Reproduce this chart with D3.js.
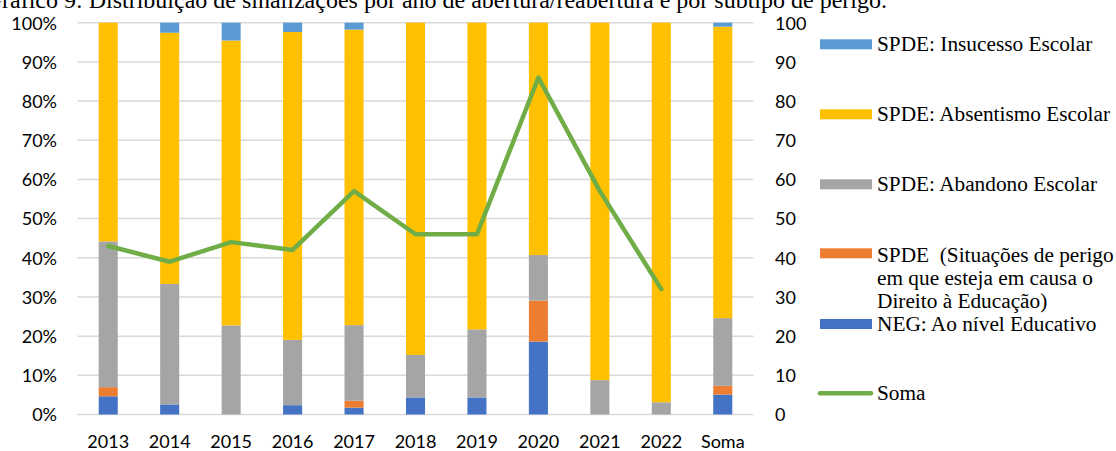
<!DOCTYPE html>
<html><head><meta charset="utf-8">
<script src="https://cdn.jsdelivr.net/npm/d3@7"></script>
<style>
html,body{margin:0;padding:0;background:#fff;}
svg{display:block;}
</style></head>
<body>
<svg id="chart" width="1116" height="451"></svg>
<script>
const categories = ["2013","2014","2015","2016","2017","2018","2019","2020","2021","2022","Soma"];
const negEducativo   = [2, 1, 0, 1, 1, 2, 2, 16, 0, 0, 25];
const spdeDireito    = [1, 0, 0, 0, 1, 0, 0, 9, 0, 0, 11];
const spdeAbandono   = [16, 12, 10, 7, 11, 5, 8, 10, 5, 1, 85];
const spdeAbsentismo = [24, 25, 32, 33, 43, 39, 36, 51, 52, 31, 366];
const spdeInsucesso  = [0, 1, 2, 1, 1, 0, 0, 0, 0, 0, 5];
const somaCategories = ["2013","2014","2015","2016","2017","2018","2019","2020","2021","2022"];
const somaValues     = [43, 39, 44, 42, 57, 46, 46, 86, 57, 32];
const leftTicks  = [0,0.1,0.2,0.3,0.4,0.5,0.6,0.7,0.8,0.9,1];
const rightTicks = [0,10,20,30,40,50,60,70,80,90,100];
const titleText = "Gráfico 9: Distribuição de sinalizações por ano de abertura/reabertura e por subtipo de perigo.";

const seriesDefs = [
  {key:"neg",  name:"NEG: Ao nível Educativo", values:negEducativo, color:"#4472C4"},
  {key:"dir",  name:"SPDE  (Situações de perigo|em que esteja em causa o|Direito à Educação)", values:spdeDireito, color:"#ED7D31"},
  {key:"aba",  name:"SPDE: Abandono Escolar", values:spdeAbandono, color:"#A5A5A5"},
  {key:"abs",  name:"SPDE: Absentismo Escolar", values:spdeAbsentismo, color:"#FFC000"},
  {key:"ins",  name:"SPDE: Insucesso Escolar", values:spdeInsucesso, color:"#5B9BD5"}
];

const rows = categories.map((c,i)=>{
  const r = {cat:c};
  seriesDefs.forEach(s=>{ r[s.key]=s.values[i]; });
  return r;
});

const svg = d3.select("#chart");
const plot = {left:77.5, right:753.5, top:22.7, bottom:414.5};

const x = d3.scaleBand().domain(categories).range([plot.left, plot.right])
  .paddingInner(0.69).paddingOuter(0.345);
const y = d3.scaleLinear().domain([0,1]).range([plot.bottom, plot.top]);
const y2 = d3.scaleLinear().domain([0,100]).range([plot.bottom, plot.top]);

// title (clipped at top like the reference)
svg.append("text").attr("x", 887).attr("y", 8).attr("text-anchor","end")
  .attr("font-family","Liberation Serif, Times New Roman, serif").attr("font-size", 24)
  .attr("fill","#000").text(titleText);

// gridlines
svg.append("g").selectAll("line").data(leftTicks).join("line")
  .attr("x1", plot.left).attr("x2", plot.right)
  .attr("y1", d=>y(d)).attr("y2", d=>y(d))
  .attr("stroke","#D9D9D9").attr("stroke-width",1.5);

// stacked bars (100% stacked)
const stack = d3.stack().keys(seriesDefs.map(s=>s.key)).offset(d3.stackOffsetExpand);
const stacked = stack(rows);
const colorOf = Object.fromEntries(seriesDefs.map(s=>[s.key,s.color]));
svg.append("g").selectAll("g").data(stacked).join("g")
  .attr("fill", d=>colorOf[d.key])
  .selectAll("rect").data(d=>d).join("rect")
  .attr("x", d=>x(d.data.cat)).attr("width", x.bandwidth())
  .attr("y", d=>y(d[1])).attr("height", d=>Math.max(0, y(d[0])-y(d[1])));

// Soma line (secondary axis)
const line = d3.line().x((d,i)=>x(somaCategories[i])+x.bandwidth()/2).y(d=>y2(d));
svg.append("path").datum(somaValues).attr("d", line)
  .attr("fill","none").attr("stroke","#70AD47").attr("stroke-width",4.5)
  .attr("stroke-linejoin","round").attr("stroke-linecap","round");

// left axis
const axisFont = "Lato, Open Sans, sans-serif";
const leftAxis = d3.axisLeft(y).tickValues(leftTicks).tickFormat(d3.format(".0%")).tickSize(0).tickPadding(0);
const gl = svg.append("g").attr("transform","translate(57,0)").call(leftAxis);
gl.select(".domain").remove();
gl.selectAll("text").attr("font-family",axisFont).attr("font-size",18).attr("fill","#000").attr("dy","0.35em");

// right axis
const rightAxis = d3.axisRight(y2).tickValues(rightTicks).tickFormat(d3.format("d")).tickSize(0).tickPadding(0);
const gr = svg.append("g").attr("transform","translate(775,0)").call(rightAxis);
gr.select(".domain").remove();
gr.selectAll("text").attr("font-family",axisFont).attr("font-size",18).attr("fill","#000").attr("dy","0.35em");

// bottom axis
const bottomAxis = d3.axisBottom(x).tickSize(0).tickPadding(0);
const gb = svg.append("g").attr("transform","translate(0,447.5)").call(bottomAxis);
gb.select(".domain").remove();
gb.selectAll("text").attr("font-family",axisFont).attr("font-size",18).attr("fill","#000").attr("dy","0");

// legend
const legendItems = [
  {s:seriesDefs[4], cy:44.3, base:[50.7]},
  {s:seriesDefs[3], cy:114.3, base:[120.7]},
  {s:seriesDefs[2], cy:184.3, base:[190.7]},
  {s:seriesDefs[1], cy:253.3, base:[261.5, 285, 308]},
  {s:seriesDefs[0], cy:324, base:[330.5]}
];
const lg = svg.append("g");
legendItems.forEach(it=>{
  lg.append("rect").attr("x",820).attr("y",it.cy-5).attr("width",52).attr("height",10).attr("fill",it.s.color);
  const lines = it.s.name.split("|");
  lines.forEach((t,k)=>{
    lg.append("text").attr("x",877).attr("y",it.base[k])
      .attr("font-family","Liberation Serif, Times New Roman, serif").attr("font-size",21.3)
      .attr("fill","#000").style("white-space","pre").text(t);
  });
});
lg.append("line").attr("x1",820).attr("x2",871).attr("y1",393.3).attr("y2",393.3)
  .attr("stroke","#70AD47").attr("stroke-width",4.5).attr("stroke-linecap","round");
lg.append("text").attr("x",877).attr("y",399.5)
  .attr("font-family","Liberation Serif, Times New Roman, serif").attr("font-size",21.3)
  .attr("fill","#000").text("Soma");
</script>
</body></html>
